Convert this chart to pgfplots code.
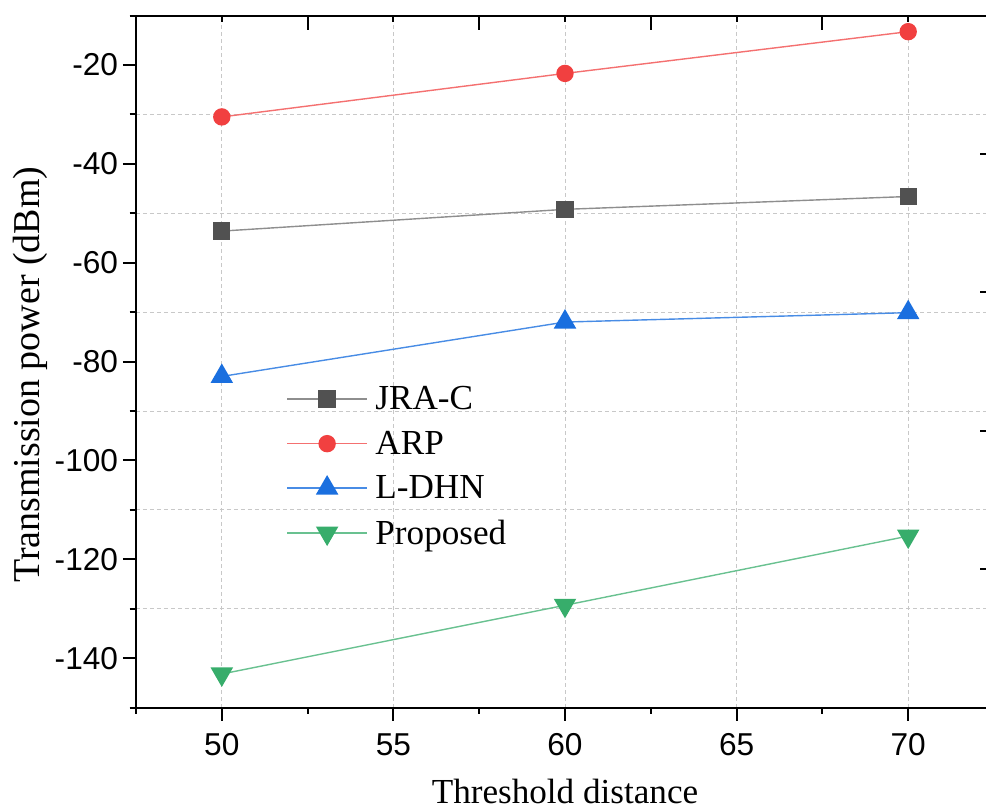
\documentclass[border=0pt]{standalone}
\usepackage{fontspec}
\setmainfont{Liberation Serif}
\setsansfont{Liberation Sans}
\usepackage{pgfplots}
\pgfplotsset{compat=1.18}

\definecolor{cJ}{HTML}{515151}
\definecolor{cA}{HTML}{F14040}
\definecolor{cL}{HTML}{1A6FDF}
\definecolor{cP}{HTML}{37AD6B}
\definecolor{gridgray}{HTML}{C8C8C8}

\begin{document}
\begin{tikzpicture}
\pgfplotsset{
  base/.style={
    scale only axis, width=214.5mm, height=173mm,
    xmin=47.5, xmax=72.5, ymin=-150, ymax=-10,
    axis line style={line width=0.5mm, -},
    every tick/.style={line width=0.5mm, black},
  },
}
\begin{axis}[base, name=ax,
  axis x line*=bottom, axis y line*=left,
  tick align=outside,
  major tick length=3.25mm, minor tick length=1.6mm,
  xtick={50,55,...,70}, minor xtick={47.5,52.5,...,72.5},
  ytick={-140,-120,...,-20}, minor ytick={-150,-130,...,-10},
  xmajorgrids, yminorgrids,
  major grid style={gridgray, line width=0.25mm, dash pattern=on 1mm off 0.75mm},
  minor grid style={gridgray, line width=0.25mm, dash pattern=on 1mm off 0.75mm},
  tick label style={font=\sffamily\fontsize{22.5}{27}\selectfont},
  xticklabel style={yshift=-2mm},
  /pgf/number format/assume math mode=true,
  xlabel={Threshold distance},
  ylabel={Transmission power (dBm)},
  xlabel style={font=\fontsize{25}{30}\selectfont, at={(rel axis cs:0.5,0)}, anchor=base, yshift=-24mm},
  ylabel style={font=\fontsize{27}{32}\selectfont, at={(rel axis cs:0,0.481)}, anchor=north, inner sep=0pt, yshift=30.75mm},
  legend style={draw=none, fill=none, at={(rel axis cs:0.175,0.468)}, anchor=north west,
    font=\fontsize{25}{30}\selectfont, row sep=3.6mm, inner sep=0pt,
    nodes={inner sep=0.6mm},
    /tikz/every odd column/.append style={column sep=1.3mm}},
  legend cell align=left,
  legend image code/.code={\draw[mark repeat=2, mark phase=2] plot coordinates {(0mm,0mm) (10mm,0mm) (20mm,0mm)};},
]
\addplot[color=cJ!65!white, line width=0.35mm, mark=square*, mark size=2mm,
  mark options={fill=cJ, draw=cJ, solid}]
  coordinates {(50,-53.6) (60,-49.2) (70,-46.6)};
\addplot[color=cA!75!white, line width=0.35mm, mark=*, mark size=2mm,
  mark options={fill=cA, draw=cA, solid}]
  coordinates {(50,-30.5) (60,-21.7) (70,-13.25)};
\addplot[color=cL!80!white, line width=0.35mm, mark=triangle*, mark size=2.9mm,
  mark options={fill=cL, draw=cL, solid}]
  coordinates {(50,-83.0) (60,-72.0) (70,-70.1)};
\addplot[color=cP!75!white, line width=0.35mm, mark=triangle*, mark size=2.9mm,
  mark options={fill=cP, draw=cP, solid, rotate=180}]
  coordinates {(50,-143.2) (60,-129.3) (70,-115.3)};
\legend{JRA-C, ARP, L-DHN, Proposed}
\end{axis}
\begin{axis}[base,
  axis x line*=top, axis y line*=right,
  tick align=inside,
  major tick length=3.5mm, minor tick length=1.5mm,
  xtick={52.5,57.5,62.5,67.5}, minor xtick={50,55,60,65,70},
  ytick={-38,-66,-94,-122},
  xticklabels={}, yticklabels={},
]
\end{axis}
\pgfresetboundingbox
\path[use as bounding box] ([xshift=-34mm, yshift=-25.8mm]ax.south west)
  rectangle ([xshift=212.5mm, yshift=176.9mm]ax.south west);
\end{tikzpicture}
\end{document}
